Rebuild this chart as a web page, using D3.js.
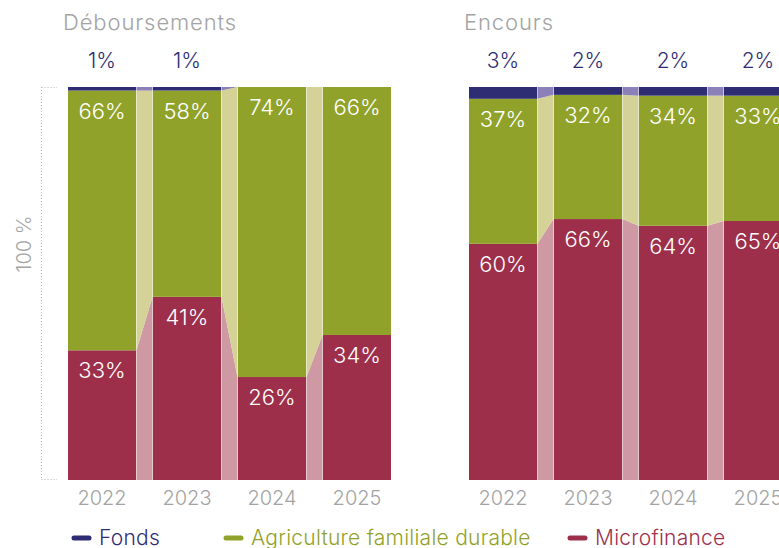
<!DOCTYPE html>
<html>
<head>
<meta charset="utf-8">
<script src="https://cdn.jsdelivr.net/npm/d3@7"></script>
<style>
  body { margin: 0; background: #fff; }
  svg { display: block; font-family: Inter, Roboto, sans-serif; font-weight: 300; }
</style>
</head>
<body>
<svg id="chart" width="779" height="548"></svg>
<script>
// years and series
const years = ['2022', '2023', '2024', '2025'];
const keys = ['micro', 'agri', 'fonds'];

// Déboursements (shares as drawn)
const debMicro = [33, 46.6, 26.2, 36.9];
const debAgri = [66.1, 52.5, 73.8, 63.1];
const debFonds = [0.9, 0.9, 0, 0];
const debMicroLabels = ['33%', '41%', '26%', '34%'];
const debAgriLabels = ['66%', '58%', '74%', '66%'];
const debFondsLabels = ['1%', '1%', '', ''];

// Encours
const encMicro = [60.1, 66.4, 64.7, 65.9];
const encAgri = [36.9, 31.6, 33.1, 31.9];
const encFonds = [3, 2, 2.2, 2.2];
const encMicroLabels = ['60%', '66%', '64%', '65%'];
const encAgriLabels = ['37%', '32%', '34%', '33%'];
const encFondsLabels = ['3%', '2%', '2%', '2%'];

const colors = { micro: '#9d2f4b', agri: '#91a22a', fonds: '#2e2d74' };
const lightColors = { micro: '#ce99a3', agri: '#d4d297', fonds: '#8b80b8' };

const legendItems = [
    { key: 'fonds', label: 'Fonds', x: 72 },
    { key: 'agri', label: 'Agriculture familiale durable', x: 224 },
    { key: 'micro', label: 'Microfinance', x: 568 }
];

const svg = d3.select('#chart');
const y = d3.scaleLinear().domain([0, 100]).range([480, 87]);

function drawPanel(title, x0, micro, agri, fonds, microLab, agriLab, fondsLab) {
    const x = d3.scaleBand().domain(years).range([x0, x0 + 323]).paddingInner(0.2).paddingOuter(0);
    const bw = x.bandwidth();
    const rows = years.map((yr, i) => ({ year: yr, micro: micro[i], agri: agri[i], fonds: fonds[i] }));
    const stacked = d3.stack().keys(keys)(rows);
    const labels = { micro: microLab, agri: agriLab, fonds: fondsLab };

    const g = svg.append('g');

    g.append('text')
        .attr('x', x0 - 5).attr('y', 30)
        .attr('fill', '#a3a3a3').attr('font-size', 22)
        .attr('letter-spacing', 0.9)
        .text(title);

    // connectors between bars
    stacked.forEach(s => {
        for (let i = 0; i < years.length - 1; i++) {
            const a = s[i], b = s[i + 1];
            const xa = x(years[i]) + bw + 0.5, xb = x(years[i + 1]) - 0.5;
            const pts = [[xa, y(a[1])], [xb, y(b[1])], [xb, y(b[0])], [xa, y(a[0])]];
            g.append('path')
                .attr('d', d3.line()(pts) + 'Z')
                .attr('fill', lightColors[s.key]);
        }
    });

    // bars
    stacked.forEach(s => {
        g.selectAll(null).data(s).enter().append('rect')
            .attr('x', d => x(d.data.year))
            .attr('y', d => y(d[1]))
            .attr('width', bw)
            .attr('height', d => y(d[0]) - y(d[1]))
            .attr('fill', colors[s.key]);
    });

    // inside labels
    ['micro', 'agri'].forEach(k => {
        const s = stacked.find(t => t.key === k);
        g.selectAll(null).data(s).enter().append('text')
            .attr('x', d => x(d.data.year) + bw / 2)
            .attr('y', d => y(d[1]) + 28)
            .attr('text-anchor', 'middle')
            .attr('fill', '#fff').attr('font-size', 22)
            .text((d, i) => labels[k][i]);
    });

    // fonds labels above
    g.selectAll(null).data(years).enter().append('text')
        .attr('x', d => x(d) + bw / 2)
        .attr('y', 68)
        .attr('text-anchor', 'middle')
        .attr('fill', colors.fonds).attr('font-size', 21)
        .text((d, i) => fondsLab[i]);

    // year labels
    g.selectAll(null).data(years).enter().append('text')
        .attr('x', d => x(d) + bw / 2)
        .attr('y', 505)
        .attr('text-anchor', 'middle')
        .attr('fill', '#a3a3a3').attr('font-size', 20)
        .text(d => d);
}

drawPanel('Déboursements', 68, debMicro, debAgri, debFonds, debMicroLabels, debAgriLabels, debFondsLabels);
drawPanel('Encours', 469, encMicro, encAgri, encFonds, encMicroLabels, encAgriLabels, encFondsLabels);

// left axis (dotted bracket)
const axis = svg.append('g').attr('stroke', '#b5b5b5').attr('stroke-width', 1).attr('stroke-dasharray', '1,2');
axis.append('line').attr('x1', 41.5).attr('x2', 41.5).attr('y1', y(100)).attr('y2', y(0));
axis.append('line').attr('x1', 41.5).attr('x2', 57).attr('y1', y(100) + 0.5).attr('y2', y(100) + 0.5);
axis.append('line').attr('x1', 41.5).attr('x2', 57).attr('y1', y(0) - 0.5).attr('y2', y(0) - 0.5);

svg.append('text')
    .attr('transform', 'translate(31,244) rotate(-90)')
    .attr('text-anchor', 'middle')
    .attr('fill', '#a3a3a3').attr('font-size', 20)
    .text('100 %');

// legend
const leg = svg.append('g');
legendItems.forEach(it => {
    leg.append('line')
        .attr('x1', it.x + 2).attr('x2', it.x + 17)
        .attr('y1', 538).attr('y2', 538)
        .attr('stroke', colors[it.key]).attr('stroke-width', 5).attr('stroke-linecap', 'round');
    leg.append('text')
        .attr('x', it.x + 27).attr('y', 545)
        .attr('fill', colors[it.key]).attr('font-size', 21)
        .attr('letter-spacing', 0.25)
        .text(it.label);
});
</script>
</body>
</html>
